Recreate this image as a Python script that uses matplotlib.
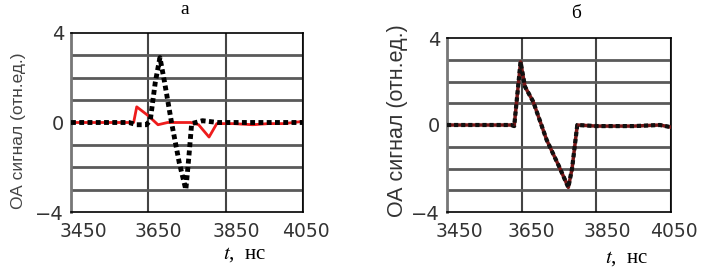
import matplotlib
matplotlib.use("Agg")
import matplotlib.pyplot as plt
import matplotlib.transforms as mtransforms

plt.rcParams["mathtext.fontset"] = "stix"

# --- data ---
t_black_a = [3450, 3600, 3620, 3645, 3655, 3668, 3680, 3692, 3710, 3730, 3747, 3755, 3762, 3790, 3830, 4050]
v_black_a = [0, 0, -0.1, -0.1, 0.1, 1.8, 2.9, 1.8, 0, -1.8, -3.0, -1.5, -0.05, 0.08, 0, 0]

t_red_a = [3450, 3612, 3620, 3650, 3675, 3700, 3760, 3780, 3807, 3827, 3870, 3920, 3960, 4000, 4050]
v_red_a = [0, 0, 0.7, 0.3, -0.1, 0, 0, -0.1, -0.65, -0.05, -0.05, -0.1, -0.05, -0.05, 0.05]

t_b = [3450, 3622, 3630, 3647, 3659, 3681, 3717, 3750, 3775, 3785, 3799, 3850, 3950, 4020, 4050]
v_b = [0, 0, -0.05, 2.9, 1.76, 1.07, -0.69, -1.9, -2.87, -2.0, 0, -0.05, -0.05, 0, -0.1]

x_ticks = [3450, 3650, 3850, 4050]
y_ticks = [-4, 0, 4]
y_grid = [-3, -2, -1, 0, 1, 2, 3]
titles = ["а", "б"]
ylabel = "ОА сигнал (отн.ед.)"

fig = plt.figure(figsize=(7.04, 2.69), dpi=100)
ax_a = fig.add_axes([71 / 704, 1 - 212 / 269, 232 / 704, 179 / 269])
ax_b = fig.add_axes([447 / 704, 1 - 212 / 269, 224 / 704, 174 / 269])

dots = (0, (1, 0.7))
label_shift = [12, 10, 11, 3]  # px, x tick labels sit right of their grid lines


def style_axes(ax):
    ax.set_xlim(3450, 4050)
    ax.set_ylim(-4, 4)
    ax.set_xticks(x_ticks)
    ax.set_xticklabels([])
    ax.set_yticks(y_ticks)
    ax.set_yticks(y_grid, minor=True)
    ax.grid(True, which="major", axis="x", color="#444", lw=1.5)
    ax.grid(True, which="minor", axis="y", color="#5a5a5a", lw=2)
    ax.tick_params(which="both", length=0)
    ax.tick_params(axis="y", pad=5)
    for lab in ax.get_yticklabels():
        lab.set_fontfamily("DejaVu Sans")
        lab.set_fontsize(14)
        lab.set_color("#333")
    for xv, dx in zip(x_ticks, label_shift):
        off = mtransforms.ScaledTranslation(dx / 100, -10 / 100, fig.dpi_scale_trans)
        ax.text(xv, 0, str(xv), transform=ax.get_xaxis_transform() + off,
                ha="center", va="top", family="DejaVu Sans", fontsize=13.5,
                color="#333", clip_on=False)
    for s in ax.spines.values():
        s.set_color("black")
        s.set_linewidth(1.2)
    ax.spines["left"].set_color("#777")
    ax.spines["left"].set_linewidth(2)
    ax.set_axisbelow(True)


style_axes(ax_a)
style_axes(ax_b)

ax_a.plot(t_red_a, v_red_a, color="#ee1c1c", lw=2, zorder=3)
ax_a.plot(t_black_a, v_black_a, color="black", lw=3.5, ls=dots, zorder=4)

ax_b.plot(t_b, v_b, color="#7a1818", lw=2.5, zorder=3)
ax_b.plot(t_b, v_b, color="#111", lw=3, ls=dots, zorder=4)

# titles
fig.text(185 / 704, 1 - 9 / 269, titles[0], ha="center", va="center",
         family="Liberation Serif", fontsize=14)
fig.text(576 / 704, 1 - 13 / 269, titles[1], ha="center", va="center",
         family="Liberation Serif", fontsize=14)

# y labels
fig.text(19 / 704, 1 - 131 / 269, ylabel, rotation=90, ha="center", va="center",
         family="Liberation Sans", fontsize=12.5, color="#444")
fig.text(398 / 704, 1 - 121 / 269, ylabel, rotation=90, ha="center", va="center",
         family="Liberation Sans", fontsize=15.5, color="#333")

# x labels
for x0, y0 in [(223, 255), (605, 259)]:
    fig.text(x0 / 704, 1 - y0 / 269, r"$t$,  нс", ha="left", va="center",
             family="Liberation Serif", fontsize=15)

fig.savefig("out.png", dpi=100)
